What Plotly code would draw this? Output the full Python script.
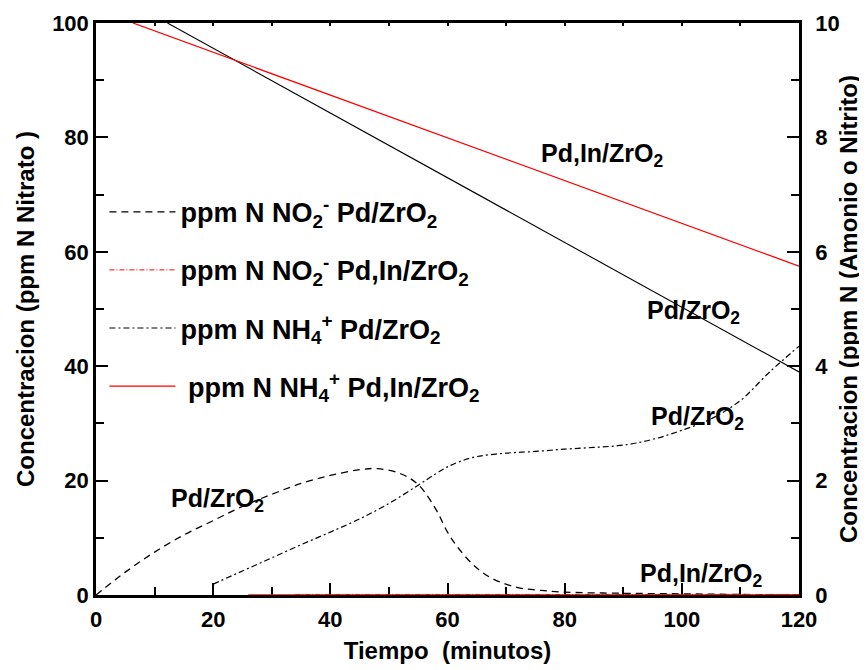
import plotly.graph_objects as go

# ---------------- data ----------------
# Nitrate (left axis, ppm N)
t_nitrato_pd = [12.2, 120]
nitrato_pd = [100, 39]
t_nitrato_pdin = [6.3, 120]
nitrato_pdin = [100, 57.5]

# Nitrite / ammonium (right axis, ppm N)
t_no2_pd = [0, 5, 10, 15, 20, 25, 30, 35, 40, 45, 48, 52, 55, 58, 60, 62, 65, 68, 72, 76, 80, 90, 100, 110, 120]
no2_pd = [0, 0.4, 0.75, 1.05, 1.3, 1.55, 1.76, 1.95, 2.09, 2.19, 2.21, 2.12, 1.93, 1.5, 1.1, 0.8, 0.47, 0.27, 0.13, 0.08, 0.05, 0.03, 0.02, 0.01, 0.0]

t_no2_pdin = [34, 60, 90, 120]
no2_pdin = [0.01, 0.01, 0.01, 0.01]

t_nh4_pd = [20, 25, 30, 35, 40, 45, 50, 55, 58, 60, 62, 65, 70, 75, 80, 85, 90, 95, 100, 105, 110, 115, 120]
nh4_pd = [0.19, 0.42, 0.65, 0.88, 1.1, 1.33, 1.6, 1.92, 2.12, 2.24, 2.33, 2.42, 2.48, 2.51, 2.55, 2.58, 2.62, 2.72, 2.88, 3.08, 3.4, 3.9, 4.35]

t_nh4_pdin = [26, 120]
nh4_pdin = [0, 0]

# annotation labels (text, x, y)
labels = [
    ("Pd,In/ZrO<sub>2</sub>", 86.5, 77),
    ("Pd/ZrO<sub>2</sub>", 102, 49.5),
    ("Pd/ZrO<sub>2</sub>", 102.7, 31),
    ("Pd/ZrO<sub>2</sub>", 20.7, 16.6),
    ("Pd,In/ZrO<sub>2</sub>", 103.4, 3.5),
]

legend_names = [
    "ppm N NO<sub>2</sub><sup>-</sup> Pd/ZrO<sub>2</sub>",
    "ppm N NO<sub>2</sub><sup>-</sup> Pd,In/ZrO<sub>2</sub>",
    "ppm N NH<sub>4</sub><sup>+</sup> Pd/ZrO<sub>2</sub>",
    " ppm N NH<sub>4</sub><sup>+</sup> Pd,In/ZrO<sub>2</sub>",
]

FONT = "Liberation Sans, Arial, sans-serif"

fig = go.Figure()

# nitrate lines (no legend)
fig.add_trace(go.Scatter(x=t_nitrato_pd, y=nitrato_pd, mode="lines",
                         line=dict(color="black", width=1.1), showlegend=False, yaxis="y"))
fig.add_trace(go.Scatter(x=t_nitrato_pdin, y=nitrato_pdin, mode="lines",
                         line=dict(color="red", width=1.3), showlegend=False, yaxis="y"))

# right-axis series
fig.add_trace(go.Scatter(x=t_no2_pd, y=no2_pd, mode="lines", name=legend_names[0],
                         line=dict(color="black", width=1.3, dash="7px,5px", shape="spline"),
                         yaxis="y2", legendgroup="a", cliponaxis=False))
fig.add_trace(go.Scatter(x=t_no2_pdin, y=no2_pdin, mode="lines", name=legend_names[1],
                         line=dict(color="red", width=1.0, dash="5px,2px,1px,2px"),
                         yaxis="y2", legendgroup="b", cliponaxis=False))
fig.add_trace(go.Scatter(x=t_nh4_pd, y=nh4_pd, mode="lines", name=legend_names[2],
                         line=dict(color="black", width=1.2, dash="6px,3px,2px,3px", shape="spline"),
                         yaxis="y2", legendgroup="c", cliponaxis=False))
fig.add_trace(go.Scatter(x=t_nh4_pdin, y=nh4_pdin, mode="lines", name=legend_names[3],
                         line=dict(color="red", width=1.3),
                         yaxis="y2", legendgroup="d", cliponaxis=False))

# dummy trace for top axis ticks
fig.add_trace(go.Scatter(x=[0, 120], y=[None, None], xaxis="x2", yaxis="y",
                         showlegend=False, hoverinfo="skip"))

for text, x, y in labels:
    fig.add_annotation(text=text, x=x, y=y, xref="x", yref="y", showarrow=False,
                       font=dict(family=FONT, size=25, color="black", weight="bold"))

TICKFONT = dict(family=FONT, size=22, color="black", weight="bold")
TITLEFONT = dict(family=FONT, size=24, color="black", weight="bold")

axis_common = dict(showline=True, linecolor="black", linewidth=2.5, ticks="inside",
                   tickcolor="black", tickwidth=2, ticklen=12, showgrid=False, zeroline=False,
                   tickfont=TICKFONT, automargin=False)
minor_common = dict(ticks="inside", ticklen=8, tickwidth=2, tickcolor="black")

fig.update_layout(
    width=867, height=670,
    margin=dict(l=88, r=76, t=15, b=83),
    paper_bgcolor="white", plot_bgcolor="white",
    font=dict(family=FONT, color="black"),
    xaxis=dict(range=[0, 120], tickvals=[0, 20, 40, 60, 80, 100, 120],
               minor=dict(tickvals=[10, 30, 50, 70, 90, 110], **minor_common),
               title=dict(text="Tiempo  (minutos)", font=TITLEFONT, standoff=12),
               ticklabelstandoff=3,
               layer="below traces", **axis_common),
    xaxis2=dict(range=[0, 120], overlaying="x", side="top", showline=True, linecolor="black",
                linewidth=2.5, ticks="inside", ticklen=3, tickwidth=2, tickcolor="black",
                tickvals=[10, 20, 30, 40, 50, 60, 70, 80, 90, 100, 110],
                showticklabels=False, showgrid=False, zeroline=False, automargin=False),
    yaxis=dict(range=[0, 100], tickvals=[0, 20, 40, 60, 80, 100],
               minor=dict(tickvals=[10, 30, 50, 70, 90], **minor_common),
               title=dict(text="Concentracion (ppm N Nitrato )", font=TITLEFONT, standoff=11),
               **axis_common),
    yaxis2=dict(range=[0, 10], overlaying="y", side="right", tickvals=[0, 2, 4, 6, 8, 10],
                minor=dict(tickvals=[1, 3, 5, 7, 9], **minor_common),
                title=dict(text="Concentracion (ppm N (Amonio o Nitrito)", font=TITLEFONT, standoff=2),
                ticklabelstandoff=9,
                **axis_common),
    legend=dict(x=0.012, y=0.712, xanchor="left", yanchor="top", bgcolor="rgba(0,0,0,0)",
                font=dict(family=FONT, size=27, color="black", weight="bold"), tracegroupgap=20,
                itemwidth=66),
    showlegend=True,
)

fig.write_html("out.html")
